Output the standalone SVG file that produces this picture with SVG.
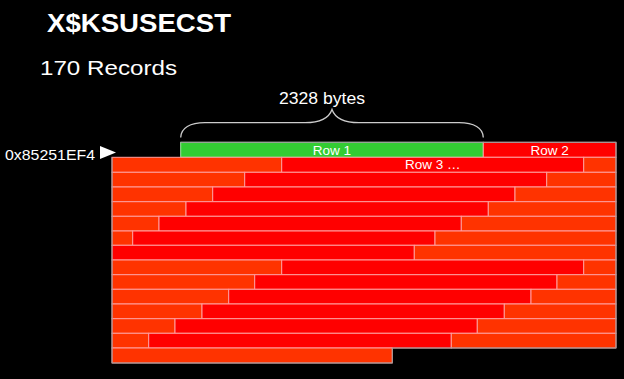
<svg xmlns="http://www.w3.org/2000/svg" width="624" height="379" viewBox="0 0 624 379">
<style>
.t{fill:#fff;font-family:"Liberation Sans",Arial,sans-serif}
.r{fill:#ff0000;stroke:#ff9f9f;stroke-width:1}
.o{fill:#ff3300;stroke:#ff9f9f;stroke-width:1}
.g{fill:#33cc33;stroke:#a6e8a6;stroke-width:1}
.c{fill:#fff;font-family:"Liberation Sans",Arial,sans-serif;font-size:13.5px;text-anchor:middle}
</style>
<rect width="624" height="379" fill="#000"/>
<g id="title"><text class="t" x="47" y="32" font-size="25" font-weight="bold" textLength="184" lengthAdjust="spacingAndGlyphs">X$KSUSECST</text></g>
<g id="records"><text class="t" x="40" y="75" font-size="21" textLength="137" lengthAdjust="spacingAndGlyphs">170 Records</text></g>
<g id="bytes"><text class="t" x="322" y="104" font-size="17" text-anchor="middle" textLength="86" lengthAdjust="spacingAndGlyphs">2328 bytes</text></g>
<g id="address"><text class="t" x="5" y="160" font-size="14.5" textLength="90" lengthAdjust="spacingAndGlyphs">0x85251EF4</text>
<polygon points="100,146 116,152.5 100,159" fill="#fff"/></g>
<g id="connectors">
<path d="M180.7,137.5 C181,128 190,122.7 205,122.7 L305,122.7 C320,122.7 329,118 332,109.5 C335,118 344,122.7 359,122.7 L459,122.7 C474,122.7 483,128 483.3,137.5" fill="none" stroke="#ccc" stroke-width="1.3"/>
</g>
<g id="block">
<g id="row1">
<rect class="g" x="180.7" y="142.3" width="302.6" height="15"/>
<rect class="r" x="483.3" y="142.3" width="132.7" height="15"/>
<text class="c" x="332" y="154.6">Row 1</text>
<text class="c" x="549.6" y="154.6">Row 2</text>
</g>
<g id="row2">
<rect class="o" x="112" y="157.3" width="169.7" height="15"/>
<rect class="r" x="281.7" y="157.3" width="302" height="15"/>
<rect class="o" x="583.7" y="157.3" width="32.3" height="15"/>
<text class="c" x="432.7" y="169.4">Row 3 …</text>
</g>
<g id="row3">
<rect class="o" x="112" y="172.3" width="132.7" height="14.7"/>
<rect class="r" x="244.7" y="172.3" width="302" height="14.7"/>
<rect class="o" x="546.7" y="172.3" width="69.3" height="14.7"/>
</g>
<g id="row4">
<rect class="o" x="112" y="187" width="100.7" height="14.7"/>
<rect class="r" x="212.7" y="187" width="302.3" height="14.7"/>
<rect class="o" x="515" y="187" width="101" height="14.7"/>
</g>
<g id="row5">
<rect class="o" x="112" y="201.7" width="74" height="14.6"/>
<rect class="r" x="186" y="201.7" width="302.3" height="14.6"/>
<rect class="o" x="488.3" y="201.7" width="127.7" height="14.6"/>
</g>
<g id="row6">
<rect class="o" x="112" y="216.3" width="47" height="14.7"/>
<rect class="r" x="159" y="216.3" width="302.3" height="14.7"/>
<rect class="o" x="461.3" y="216.3" width="154.7" height="14.7"/>
</g>
<g id="row7">
<rect class="o" x="112" y="231" width="20.7" height="14.3"/>
<rect class="r" x="132.7" y="231" width="302.3" height="14.3"/>
<rect class="o" x="435" y="231" width="181" height="14.3"/>
</g>
<g id="row8">
<rect class="r" x="112" y="245.3" width="302.3" height="14.7"/>
<rect class="o" x="414.3" y="245.3" width="201.7" height="14.7"/>
</g>
<g id="row9">
<rect class="o" x="112" y="260" width="169.7" height="14.7"/>
<rect class="r" x="281.7" y="260" width="302" height="14.7"/>
<rect class="o" x="583.7" y="260" width="32.3" height="14.7"/>
</g>
<g id="row10">
<rect class="o" x="112" y="274.7" width="142.7" height="14.6"/>
<rect class="r" x="254.7" y="274.7" width="302.3" height="14.6"/>
<rect class="o" x="557" y="274.7" width="59" height="14.6"/>
</g>
<g id="row11">
<rect class="o" x="112" y="289.3" width="116.7" height="14.7"/>
<rect class="r" x="228.7" y="289.3" width="302.3" height="14.7"/>
<rect class="o" x="531" y="289.3" width="85" height="14.7"/>
</g>
<g id="row12">
<rect class="o" x="112" y="304" width="90" height="14.7"/>
<rect class="r" x="202" y="304" width="302.3" height="14.7"/>
<rect class="o" x="504.3" y="304" width="111.7" height="14.7"/>
</g>
<g id="row13">
<rect class="o" x="112" y="318.7" width="63" height="14.6"/>
<rect class="r" x="175" y="318.7" width="302.3" height="14.6"/>
<rect class="o" x="477.3" y="318.7" width="138.7" height="14.6"/>
</g>
<g id="row14">
<rect class="o" x="112" y="333.3" width="36.7" height="14.7"/>
<rect class="r" x="148.7" y="333.3" width="302.6" height="14.7"/>
<rect class="o" x="451.3" y="333.3" width="164.7" height="14.7"/>
</g>
<g id="row15">
<rect class="o" x="112" y="348" width="280.3" height="15"/>
</g>
<path id="outline" d="M180.7,142.3 H616 V348 H392.3 V363 H112 V157.3" fill="none" stroke="#999" stroke-width="1"/>
</g>
</svg>
